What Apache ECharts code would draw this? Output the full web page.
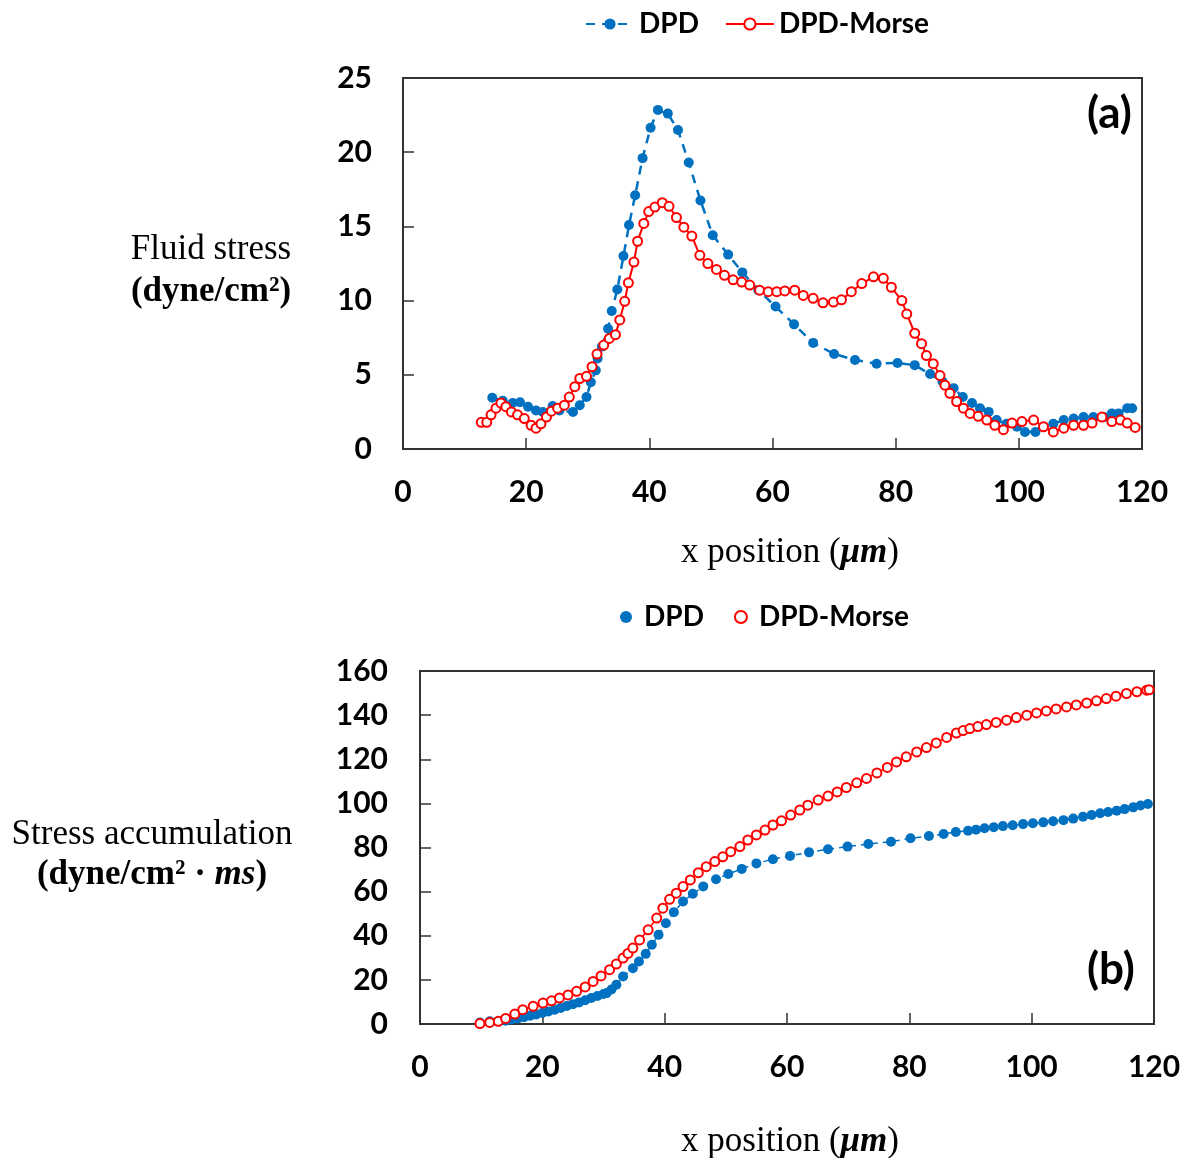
<!DOCTYPE html>
<html>
<head>
<meta charset="utf-8">
<script src="https://cdn.jsdelivr.net/npm/echarts@6/dist/echarts.min.js"></script>
<style>
  html, body { margin: 0; padding: 0; background: #fff; }
  #chart { width: 1184px; height: 1158px; }
</style>
</head>
<body>
<div id="chart"></div>
<script>
// (a) fluid stress, dyne/cm2
const dpdX = [14.5, 16.2, 17.8, 19.0, 20.3, 21.6, 22.7, 24.3, 25.4, 27.6, 28.7, 29.8, 30.5, 31.3, 31.6, 32.3, 33.3, 33.9, 34.8, 35.8, 36.7, 37.7, 38.9, 40.2, 41.4, 43.0, 44.65, 46.4, 48.3, 50.3, 52.8, 55.1, 57.7, 60.5, 63.5, 66.6, 70.0, 73.4, 76.9, 80.3, 83.1, 85.6, 87.6, 89.4, 90.9, 92.4, 93.7, 95.1, 96.4, 98.0, 99.7, 101.0, 102.7, 104.0, 105.6, 107.3, 108.9, 110.5, 112.1, 113.8, 115.1, 116.2, 117.6, 118.4];
const dpdStress = [3.45, 3.25, 3.1, 3.15, 2.85, 2.6, 2.5, 2.9, 2.6, 2.5, 2.95, 3.5, 4.5, 5.3, 6.1, 6.9, 8.1, 9.3, 10.75, 13.0, 15.1, 17.1, 19.6, 21.65, 22.85, 22.6, 21.5, 19.3, 16.75, 14.4, 13.1, 11.9, 10.7, 9.6, 8.4, 7.15, 6.4, 6.0, 5.75, 5.8, 5.65, 5.05, 4.55, 4.1, 3.5, 3.1, 2.75, 2.5, 1.95, 1.7, 1.5, 1.15, 1.15, 1.5, 1.7, 1.95, 2.05, 2.15, 2.15, 2.15, 2.4, 2.4, 2.75, 2.75];
const morseX = [12.7, 13.6, 14.3, 15.1, 15.9, 16.7, 17.6, 18.6, 19.7, 20.8, 21.6, 22.4, 23.3, 24.1, 25.1, 26.2, 27.0, 27.9, 28.7, 29.8, 30.7, 31.5, 32.6, 33.5, 34.5, 35.2, 36.0, 36.6, 37.5, 38.1, 39.1, 39.9, 40.9, 42.1, 43.2, 44.4, 45.6, 46.9, 48.2, 49.5, 50.9, 52.2, 53.6, 55.0, 56.3, 57.9, 59.3, 60.7, 62.0, 63.6, 65.0, 66.6, 68.2, 69.9, 71.2, 72.8, 74.5, 76.4, 78.0, 79.3, 81.0, 81.8, 83.1, 84.2, 85.0, 86.1, 87.2, 88.0, 88.8, 89.9, 91.0, 92.1, 93.4, 94.8, 96.1, 97.5, 98.9, 100.5, 102.4, 104.0, 105.6, 107.3, 108.9, 110.5, 111.9, 113.5, 115.1, 116.5, 117.6, 118.9];
const morseStress = [1.8, 1.8, 2.3, 2.75, 3.1, 2.85, 2.5, 2.3, 2.05, 1.6, 1.4, 1.7, 2.15, 2.55, 2.75, 2.95, 3.5, 4.2, 4.75, 4.9, 5.55, 6.4, 7.0, 7.45, 7.7, 8.7, 9.95, 11.2, 12.6, 14.0, 15.2, 16.0, 16.3, 16.6, 16.35, 15.6, 14.95, 14.35, 13.05, 12.5, 12.1, 11.7, 11.4, 11.25, 11.05, 10.7, 10.6, 10.6, 10.65, 10.7, 10.35, 10.15, 9.85, 9.9, 10.05, 10.6, 11.15, 11.6, 11.5, 10.9, 10.0, 9.1, 7.8, 7.1, 6.3, 5.75, 4.95, 4.3, 3.75, 3.2, 2.75, 2.4, 2.2, 1.95, 1.6, 1.3, 1.75, 1.85, 1.95, 1.5, 1.15, 1.4, 1.6, 1.6, 1.75, 2.15, 1.85, 1.95, 1.75, 1.45];

// (b) stress accumulation, dyne/cm2*ms
const dpdAccX = [9.8, 11.4, 12.8, 14, 15, 16, 17, 18, 19, 20, 21, 22, 23, 24, 25, 26, 27, 28, 29, 30, 30.5, 31.3, 32.1, 33.2, 34.8, 35.8, 36.9, 37.9, 39.0, 40.2, 41.5, 43.0, 44.6, 46.3, 48.4, 50.4, 52.6, 55.0, 57.7, 60.5, 63.6, 66.7, 69.9, 73.3, 77.0, 80.2, 83.2, 85.6, 87.6, 89.6, 90.9, 92.3, 93.8, 95.3, 96.9, 98.6, 100.2, 101.9, 103.5, 105.2, 106.8, 108.4, 109.8, 111.2, 112.5, 113.9, 115.2, 116.6, 117.8, 119.0];
const dpdAcc = [0.7, 1.2, 1.3, 1.5, 2.0, 2.5, 3.1, 3.7, 4.3, 5.0, 5.7, 6.5, 7.3, 8.2, 9.0, 9.8, 10.8, 11.8, 12.7, 13.6, 14.0, 15.6, 17.8, 21.5, 25.3, 28.3, 31.8, 35.9, 40.4, 45.7, 50.7, 55.5, 59.0, 62.3, 65.6, 68.0, 70.3, 72.8, 74.7, 76.2, 77.8, 79.2, 80.4, 81.6, 82.6, 84.2, 85.2, 86.1, 87.0, 87.6, 88.1, 88.7, 89.2, 89.7, 90.1, 90.6, 91.0, 91.4, 91.9, 92.4, 93.1, 93.9, 94.7, 95.5, 96.1, 96.7, 97.4, 98.2, 99.0, 99.7];
const morseAccX = [9.8, 11.4, 12.8, 14.0, 15.5, 16.8, 18.5, 20.1, 21.5, 22.8, 24.2, 25.6, 27.0, 28.3, 29.6, 31.0, 32.1, 33.2, 34.0, 34.8, 35.9, 37.3, 38.7, 39.7, 40.8, 41.9, 43.0, 44.2, 45.5, 46.8, 48.2, 49.5, 50.8, 52.3, 53.6, 55.0, 56.4, 57.7, 59.1, 60.6, 62.1, 63.4, 65.1, 66.7, 68.2, 69.7, 71.4, 73.0, 74.7, 76.4, 77.9, 79.5, 81.2, 82.8, 84.4, 86.1, 87.7, 88.8, 89.9, 91.2, 92.6, 94.2, 95.9, 97.5, 99.2, 100.8, 102.4, 104.0, 105.7, 107.3, 109.0, 110.6, 112.2, 113.8, 115.5, 117.2, 118.8, 119.2];
const morseAcc = [0.2, 0.7, 1.2, 2.5, 4.5, 6.5, 8.0, 9.5, 10.5, 11.8, 13.2, 14.8, 16.8, 19.3, 21.8, 24.6, 27.2, 29.9, 32.0, 34.4, 38.1, 42.7, 48.0, 52.5, 56.5, 59.3, 62.3, 65.3, 68.6, 71.3, 73.6, 75.8, 78.1, 80.4, 83.4, 85.7, 87.9, 90.2, 92.1, 94.7, 97.0, 99.2, 101.5, 103.3, 105.2, 107.2, 109.3, 111.3, 113.8, 116.3, 118.8, 121.1, 123.3, 125.3, 127.4, 129.9, 131.9, 133.0, 133.9, 134.8, 135.7, 136.7, 137.7, 138.9, 140.0, 141.0, 141.9, 142.8, 143.7, 144.6, 145.5, 146.5, 147.5, 148.6, 149.8, 150.6, 151.3, 151.5];

const xTicks = [0, 20, 40, 60, 80, 100, 120];

const BLUE = '#0070C0';
const RED = '#FF0000';
const SANS = 'Lato, "Open Sans", sans-serif';
const SERIF = '"Liberation Serif", "DejaVu Serif", serif';
const SERIF_SIZE = 35;

function zip(xs, ys) {
  return xs.map((x, i) => [x, ys[i]]);
}

const chart = echarts.init(document.getElementById('chart'));

const tickLabel = { color: '#000', fontFamily: SANS, fontWeight: 'bold', fontSize: 30 };
const legendText = { color: '#000', fontFamily: SANS, fontWeight: 'bold', fontSize: 28 };

function xAxisFor(gridIndex) {
  return {
    type: 'value', gridIndex, min: 0, max: 120, interval: 20,
    axisLine: { show: true, lineStyle: { color: '#333', width: 2 } },
    axisTick: { show: true, inside: true, length: 11, lineStyle: { color: '#333', width: 1.5 } },
    axisLabel: Object.assign({ margin: 28, formatter: (v) => (xTicks.includes(v) ? String(v) : '') }, tickLabel),
    splitLine: { show: false }
  };
}

function yAxisFor(gridIndex, max, interval, margin) {
  return {
    type: 'value', gridIndex, min: 0, max, interval,
    axisLine: { show: true, lineStyle: { color: '#333', width: 2 } },
    axisTick: { show: true, inside: true, length: 11, lineStyle: { color: '#333', width: 1.5 } },
    axisLabel: Object.assign({ margin }, tickLabel),
    splitLine: { show: false }
  };
}

// serif axis-name text (rich)
function serifRich(lineHeight) {
  return {
    n: { fontFamily: SERIF, fontSize: SERIF_SIZE, lineHeight, fill: '#000' },
    b: { fontFamily: SERIF, fontSize: SERIF_SIZE, fontWeight: 'bold', lineHeight, fill: '#000' },
    i: { fontFamily: SERIF, fontSize: SERIF_SIZE, fontWeight: 'bold', fontStyle: 'italic', lineHeight, fill: '#000' }
  };
}

const option = {
  backgroundColor: '#fff',
  animation: false,
  grid: [
    { left: 403, top: 78, width: 739, height: 371, show: true, borderColor: '#333', borderWidth: 2 },
    { left: 420, top: 671, width: 734, height: 353, show: true, borderColor: '#333', borderWidth: 2 }
  ],
  legend: [
    {
      left: 580, top: 5, itemWidth: 48, itemHeight: 14, itemGap: 26,
      textStyle: legendText,
      data: ['DPD', 'DPD-Morse']
    },
    {
      left: 615, top: 598, itemWidth: 26, itemHeight: 12, itemGap: 30,
      textStyle: legendText,
      data: [
        { name: 'DPD', icon: 'circle' },
        { name: 'DPD-Morse', icon: 'emptyCircle' }
      ]
    }
  ],
  xAxis: [xAxisFor(0), xAxisFor(1)],
  yAxis: [yAxisFor(0, 25, 5, 31), yAxisFor(1, 160, 20, 32)],
  series: [
    {
      name: 'DPD', type: 'line', xAxisIndex: 0, yAxisIndex: 0,
      data: zip(dpdX, dpdStress),
      symbol: 'circle', symbolSize: 10,
      itemStyle: { color: BLUE },
      lineStyle: { color: BLUE, width: 2.5, type: [9, 7] }
    },
    {
      name: 'DPD-Morse', type: 'line', xAxisIndex: 0, yAxisIndex: 0,
      data: zip(morseX, morseStress),
      symbol: 'emptyCircle', symbolSize: 9,
      itemStyle: { color: RED, borderWidth: 1.5 },
      lineStyle: { color: RED, width: 2 }
    },
    {
      name: 'DPD', type: 'line', xAxisIndex: 1, yAxisIndex: 1,
      data: zip(dpdAccX, dpdAcc),
      symbol: 'circle', symbolSize: 10,
      itemStyle: { color: BLUE },
      lineStyle: { color: BLUE, width: 1.5, type: [6, 5] }
    },
    {
      name: 'DPD-Morse', type: 'line', xAxisIndex: 1, yAxisIndex: 1,
      data: zip(morseAccX, morseAcc),
      symbol: 'emptyCircle', symbolSize: 9,
      itemStyle: { color: RED, borderWidth: 1.5 },
      lineStyle: { color: RED, width: 1.5 }
    }
  ],
  graphic: [
    // panel labels
    { type: 'text', left: 1087, top: 92, style: { text: '(a)', fontFamily: SANS, fontWeight: 'bold', fontSize: 44, fill: '#000' } },
    { type: 'text', left: 1087, top: 948, style: { text: '(b)', fontFamily: SANS, fontWeight: 'bold', fontSize: 44, fill: '#000' } },
    // axis names
    {
      type: 'text', x: 211, y: 271,
      style: {
        text: '{n|Fluid stress}\n{b|(dyne/cm²)}',
        align: 'center', verticalAlign: 'middle', rich: serifRich(42)
      }
    },
    {
      type: 'text', x: 152, y: 855,
      style: {
        text: '{n|Stress accumulation}\n{b|(dyne/cm² · }{i|ms}{b|)}',
        align: 'center', verticalAlign: 'middle', rich: serifRich(40)
      }
    },
    {
      type: 'text', x: 790, y: 553,
      style: {
        text: '{n|x position (}{i|μm}{n|)}',
        align: 'center', verticalAlign: 'middle', rich: serifRich(40)
      }
    },
    {
      type: 'text', x: 790, y: 1142,
      style: {
        text: '{n|x position (}{i|μm}{n|)}',
        align: 'center', verticalAlign: 'middle', rich: serifRich(40)
      }
    }
  ]
};

chart.setOption(option);
</script>
</body>
</html>
